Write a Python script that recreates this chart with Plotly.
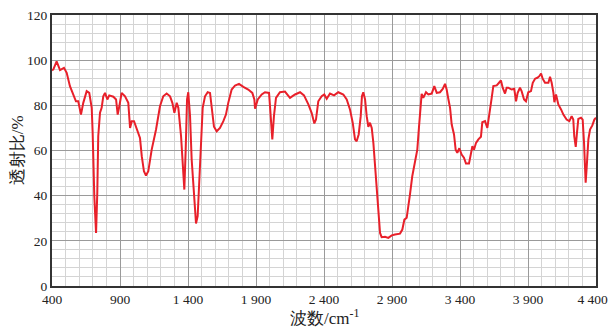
import plotly.graph_objects as go

wavenumber = [400, 410, 434, 459, 488, 508, 532, 557, 576, 593, 613, 630, 655, 674, 692, 699, 711, 724, 733, 740,
              753, 765, 777, 790, 807, 821, 851, 871, 883, 895, 912, 937, 961, 974, 986, 1003, 1027, 1047, 1060, 1076,
              1091, 1108, 1133, 1165, 1194, 1218, 1243, 1268, 1285, 1300, 1317, 1329, 1349, 1366, 1373, 1383, 1393,
              1402, 1415, 1427, 1444, 1459, 1471, 1483, 1496, 1508, 1525, 1545, 1562, 1574, 1591, 1611, 1635, 1660,
              1679, 1696, 1721, 1746, 1775, 1807, 1843, 1873, 1888, 1893, 1913, 1942, 1966, 1996, 2010, 2020, 2032,
              2047, 2076, 2113, 2150, 2187, 2224, 2253, 2285, 2309, 2329, 2341, 2358, 2383, 2402, 2420, 2444, 2474,
              2505, 2542, 2567, 2591, 2611, 2628, 2640, 2655, 2670, 2679, 2689, 2702, 2714, 2726, 2738, 2751, 2763,
              2775, 2788, 2800, 2812, 2824, 2849, 2873, 2898, 2922, 2959, 2976, 2991, 3008, 3020, 3032, 3049, 3069,
              3086, 3099, 3111, 3118, 3130, 3150, 3167, 3192, 3211, 3229, 3253, 3273, 3290, 3302, 3314, 3327, 3339,
              3356, 3368, 3380, 3395, 3412, 3429, 3444, 3466, 3481, 3491, 3503, 3518, 3535, 3554, 3564, 3584, 3601,
              3616, 3633, 3645, 3670, 3687, 3701, 3714, 3731, 3743, 3755, 3780, 3799, 3812, 3824, 3841, 3853, 3871,
              3885, 3902, 3922, 3935, 3952, 3969, 3983, 3996, 4008, 4025, 4050, 4062, 4074, 4087, 4094, 4106, 4123,
              4143, 4160, 4184, 4204, 4221, 4233, 4240, 4251, 4260, 4270, 4290, 4302, 4312, 4319, 4324, 4332, 4344,
              4356, 4373, 4388, 4400]
transmittance = [95.5, 95.9, 99.5, 95.6, 96.6, 94.4, 88.5, 84.8, 81.8, 81.8, 75.9, 81.1, 86.3, 85.5, 78.9, 67.8, 39.8,
                 23.5, 41.3, 66.3, 76.7, 78.9, 84.0, 85.5, 82.6, 84.4, 83.8, 82.6, 75.9, 79.6, 85.5, 84.0, 81.1, 70.0,
                 73.0, 73.0, 69.3, 65.6, 57.5, 50.8, 48.9, 50.8, 60.4, 69.3, 79.6, 84.0, 85.2, 84.0, 81.1, 76.7, 81.1,
                 78.9, 66.3, 50.1, 42.7, 60.4, 82.6, 85.8, 75.2, 56.0, 38.3, 27.7, 30.9, 48.6, 67.8, 78.9, 84.0, 85.8,
                 85.5, 78.2, 70.5, 68.5, 70.0, 73.0, 75.9, 81.1, 87.0, 88.8, 89.5, 88.2, 87.0, 85.5, 82.6, 78.5, 82.6,
                 84.8, 85.8, 85.5, 75.2, 64.9, 75.2, 83.3, 85.8, 86.1, 83.3, 84.8, 85.8, 84.4, 80.4, 76.7, 72.0, 73.7,
                 81.8, 84.0, 84.8, 82.9, 85.2, 84.4, 85.8, 84.8, 82.6, 78.2, 72.3, 64.9, 64.1, 67.1, 75.2, 84.0, 85.8,
                 82.6, 75.2, 70.5, 72.3, 70.0, 63.4, 53.0, 41.3, 30.9, 23.5, 21.6, 21.8, 21.3, 22.4, 22.8, 23.2, 25.0,
                 29.4, 30.2, 36.8, 40.5, 48.6, 54.5, 60.4, 70.8, 81.1, 85.1, 83.3, 85.8, 84.8, 85.2, 88.5, 85.5, 85.8,
                 87.3, 89.5, 87.0, 82.9, 78.9, 71.5, 67.1, 60.4, 59.0, 61.0, 58.2, 56.8, 54.2, 54.2, 58.2, 61.9, 60.4,
                 63.4, 64.9, 66.1, 72.5, 73.0, 70.0, 77.4, 83.3, 88.5, 88.8, 90.0, 91.0, 87.8, 85.2, 87.8, 87.8, 87.0,
                 87.3, 81.8, 85.5, 87.8, 86.3, 82.6, 81.8, 85.8, 86.3, 90.0, 91.8, 92.2, 92.9, 94.1, 91.8, 90.0, 90.0,
                 92.6, 90.0, 85.5, 81.4, 84.8, 80.4, 78.2, 75.9, 73.7, 73.0, 75.2, 73.7, 66.3, 61.6, 67.8, 74.0, 74.5,
                 73.7, 63.4, 51.6, 45.7, 53.0, 64.9, 69.3, 71.1, 73.7, 74.5]

x_tick_vals = [400, 900, 1400, 1900, 2400, 2900, 3400, 3900, 4400]
x_tick_text = ["400", "900", "1 400", "1 900", "2 400", "2 900", "3 400", "3 900", "4 400\u00a0\u00a0"]
y_tick_vals = [0, 20, 40, 60, 80, 100, 120]
y_tick_text = ["0", "20", "40", "60", "80", "100", "120"]
x_title = "波数/cm<sup>-1</sup>"
y_title = "透射比/%"

fig = go.Figure()
fig.add_trace(go.Scatter(x=wavenumber, y=transmittance, mode="lines",
                         line=dict(color="#e8202a", width=2)))

serif = "Liberation Serif, Times New Roman, serif"
fig.update_layout(
    width=608, height=327,
    margin=dict(l=52, r=12, t=15, b=41, autoexpand=False),
    paper_bgcolor="white", plot_bgcolor="white",
    showlegend=False,
    font=dict(family=serif, size=13, color="#222"),
)
fig.update_xaxes(
    range=[400, 4400], tickmode="array", tickvals=x_tick_vals, ticktext=x_tick_text,
    showgrid=True, gridcolor="#9a9a9a", gridwidth=1,
    minor=dict(tickmode="linear", tick0=400, dtick=100, showgrid=True, gridcolor="#d4d4d4", gridwidth=1),
    showline=True, linecolor="#333", linewidth=2, mirror=True, ticks="",
    zeroline=False, automargin=False, ticklabeloverflow="allow",
    tickfont=dict(family=serif, size=13.5, color="#222"),
)
fig.update_yaxes(
    range=[0, 120], tickmode="array", tickvals=y_tick_vals, ticktext=y_tick_text,
    showgrid=True, gridcolor="#9a9a9a", gridwidth=1,
    minor=dict(tickmode="linear", tick0=0, dtick=4, showgrid=True, gridcolor="#d4d4d4", gridwidth=1),
    showline=True, linecolor="#333", linewidth=2, mirror=True, ticks="",
    zeroline=False, automargin=False, ticklabeloverflow="allow",
    tickfont=dict(family=serif, size=13.5, color="#222"),
)
fig.add_annotation(text=x_title, xref="paper", yref="paper", x=0.5, y=-0.113,
                   xanchor="center", yanchor="middle", showarrow=False,
                   font=dict(family=serif, size=17, color="#222"))
fig.add_annotation(text=y_title, xref="paper", yref="paper", x=-0.063, y=0.5,
                   xanchor="center", yanchor="middle", showarrow=False, textangle=-90,
                   font=dict(family=serif, size=17, color="#222"))

fig.write_html("out.html", config={"displayModeBar": False},
               post_script="document.body.style.margin='0';document.body.style.overflow='hidden';")
